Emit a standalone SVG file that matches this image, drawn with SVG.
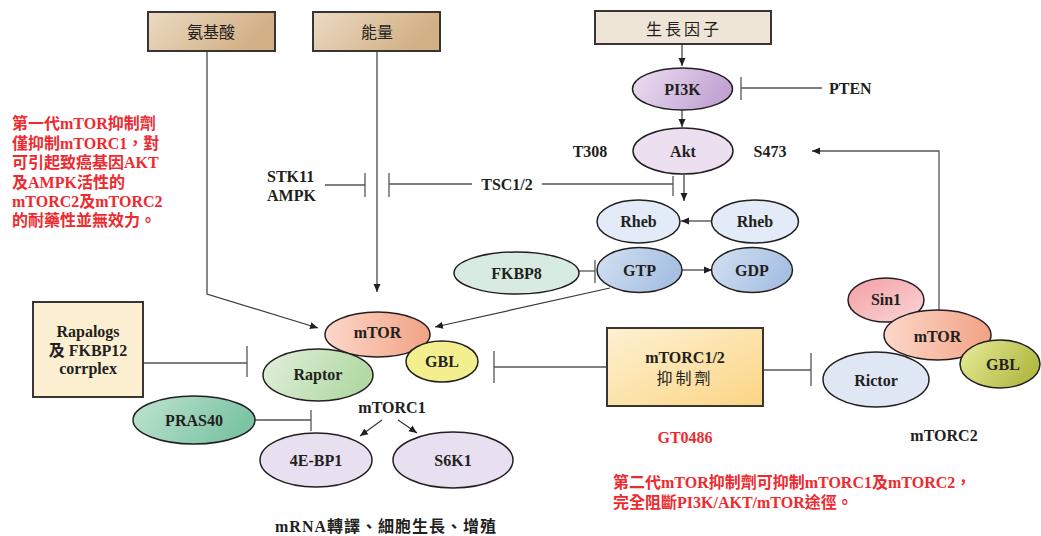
<svg xmlns="http://www.w3.org/2000/svg" width="1041" height="536" viewBox="0 0 1041 536">
<defs>
<style>
.lbl{font-family:"Liberation Serif","Noto Sans CJK TC",serif;font-weight:bold;font-size:16px;fill:#231f20;text-anchor:middle;dominant-baseline:central}
.st{text-anchor:start}
.cjk{font-family:"Noto Sans CJK TC","Noto Sans CJK SC",sans-serif;font-size:16px;fill:#231f20;text-anchor:middle;dominant-baseline:central}
.red{font-family:"Liberation Serif","Noto Sans CJK TC",serif;font-weight:bold;font-size:16px;fill:#ee2a2f;dominant-baseline:central}
.node{stroke:#231f20;stroke-width:1.5}
.box{stroke:#3a3433;stroke-width:2}
.ln{stroke:#3a3a3a;stroke-width:1.2;fill:none}
.inh{stroke:#555;stroke-width:1.3;fill:none}
</style>
<marker id="arr" markerUnits="userSpaceOnUse" markerWidth="9" markerHeight="8" refX="8" refY="4" orient="auto"><path d="M0,0.5 L8,4 L0,7.5 z" fill="#231f20"/></marker>
<linearGradient id="gTan" x1="0" y1="0" x2="1" y2="0.3"><stop offset="0" stop-color="#ebdac3"/><stop offset="1" stop-color="#d2af84"/></linearGradient>
<linearGradient id="gPur" x1="0" y1="0" x2="1" y2="0.3"><stop offset="0" stop-color="#ede1f1"/><stop offset="1" stop-color="#c2a3d4"/></linearGradient>
<linearGradient id="gSal" x1="0" y1="0" x2="1" y2="0"><stop offset="0" stop-color="#fcd8c9"/><stop offset="1" stop-color="#f2a284"/></linearGradient>
<linearGradient id="gGrn" x1="0" y1="0" x2="1" y2="0.3"><stop offset="0" stop-color="#e2f0dd"/><stop offset="1" stop-color="#b3d9a5"/></linearGradient>
<linearGradient id="gTeal" x1="0" y1="0" x2="1" y2="0.3"><stop offset="0" stop-color="#bfe4d0"/><stop offset="1" stop-color="#7cc4a3"/></linearGradient>
<linearGradient id="gBlue" x1="0" y1="0" x2="1" y2="0.3"><stop offset="0" stop-color="#d3e1f2"/><stop offset="1" stop-color="#a7c0e2"/></linearGradient>
<linearGradient id="gGold" x1="0" y1="0" x2="1" y2="1"><stop offset="0" stop-color="#fdf1d2"/><stop offset="1" stop-color="#fcd585"/></linearGradient>
<linearGradient id="gPink" x1="0" y1="0" x2="1" y2="1"><stop offset="0" stop-color="#f49ea3"/><stop offset="1" stop-color="#fad6d8"/></linearGradient>
<linearGradient id="gOlive" x1="0" y1="0" x2="1" y2="0.4"><stop offset="0" stop-color="#e9ec9a"/><stop offset="1" stop-color="#b3bb45"/></linearGradient>
</defs>
<rect width="1041" height="536" fill="#ffffff"/>

<g id="connectors">
<polyline class="ln" points="207,51 207,294 318,328" marker-end="url(#arr)"/>
<line class="ln" x1="377" y1="51" x2="377" y2="292" marker-end="url(#arr)"/>
<line class="inh" x1="325" y1="185" x2="365" y2="185"/>
<line class="inh" x1="365" y1="173" x2="365" y2="197"/>
<line class="inh" x1="389" y1="173" x2="389" y2="197"/>
<line class="inh" x1="389" y1="184" x2="472" y2="184"/>
<line class="inh" x1="542" y1="184" x2="673" y2="184"/>
<line class="inh" x1="673" y1="176" x2="673" y2="196"/>
<line class="ln" x1="682" y1="44" x2="682" y2="66" marker-end="url(#arr)"/>
<line class="ln" x1="682" y1="110" x2="682" y2="127" marker-end="url(#arr)"/>
<line class="inh" x1="741" y1="88" x2="822" y2="88"/>
<line class="inh" x1="741" y1="77" x2="741" y2="100"/>
<line class="ln" x1="684" y1="175" x2="684" y2="201" marker-end="url(#arr)"/>
<line class="ln" x1="712" y1="221" x2="681" y2="221" marker-end="url(#arr)"/>
<line class="inh" x1="579" y1="271" x2="595" y2="271"/>
<line class="inh" x1="595" y1="260" x2="595" y2="283"/>
<line class="ln" x1="682" y1="270" x2="712" y2="270" marker-end="url(#arr)"/>
<line class="ln" x1="610" y1="288" x2="435" y2="327" marker-end="url(#arr)"/>
<polyline class="inh" points="939,310 939,151 812,151" marker-end="url(#arr)"/>
<line class="inh" x1="143" y1="363" x2="247" y2="363"/>
<line class="inh" x1="247" y1="346" x2="247" y2="377"/>
<line class="inh" x1="607" y1="367" x2="494" y2="367"/>
<line class="inh" x1="494" y1="351" x2="494" y2="383"/>
<line class="inh" x1="763" y1="370" x2="811" y2="370"/>
<line class="inh" x1="811" y1="353" x2="811" y2="386"/>
<line class="inh" x1="255" y1="420" x2="311" y2="420"/>
<line class="inh" x1="311" y1="410" x2="311" y2="431"/>
<line class="ln" x1="382" y1="420" x2="360" y2="436" marker-end="url(#arr)"/>
<line class="ln" x1="398" y1="420" x2="417" y2="433" marker-end="url(#arr)"/>
</g>

<g id="amino"><rect class="box" x="148" y="12" width="127" height="39" fill="url(#gTan)"/><text class="cjk" x="211" y="31">氨基酸</text></g>
<g id="energy"><rect class="box" x="313" y="12" width="127" height="39" fill="url(#gTan)"/><text class="cjk" x="377" y="31">能量</text></g>
<g id="growth"><rect class="box" x="595" y="11" width="176" height="33" fill="#efe5d6"/><text class="cjk" x="684" y="28" letter-spacing="3">生長因子</text></g>

<g id="pi3k"><ellipse class="node" cx="682.5" cy="89" rx="50" ry="21" fill="url(#gPur)"/><text class="lbl" x="682.5" y="89">PI3K</text></g>
<g id="pten"><text class="lbl st" x="829" y="88">PTEN</text></g>
<g id="akt"><ellipse class="node" cx="683" cy="151" rx="50" ry="23" fill="#ecdfef"/><text class="lbl" x="683" y="151">Akt</text></g>
<g id="t308"><text class="lbl" x="590" y="151">T308</text></g>
<g id="s473"><text class="lbl" x="770" y="151">S473</text></g>
<g id="stk11"><text class="lbl st" x="267" y="176">STK11</text><text class="lbl st" x="267" y="195">AMPK</text></g>
<g id="tsc"><text class="lbl" x="507" y="184">TSC1/2</text></g>

<g id="rheb1"><ellipse class="node" cx="638.5" cy="221.5" rx="41.5" ry="21.5" fill="#e2ebf7"/><text class="lbl" x="638.5" y="221.5">Rheb</text></g>
<g id="rheb2"><ellipse class="node" cx="755" cy="221.5" rx="43.5" ry="21.5" fill="#e2ebf7"/><text class="lbl" x="755" y="221.5">Rheb</text></g>
<g id="gtp"><ellipse class="node" cx="639.5" cy="270" rx="42.5" ry="22.5" fill="url(#gBlue)"/><text class="lbl" x="639.5" y="270">GTP</text></g>
<g id="gdp"><ellipse class="node" cx="752" cy="270" rx="40.5" ry="22.5" fill="url(#gBlue)"/><text class="lbl" x="752" y="270">GDP</text></g>
<g id="fkbp8"><ellipse class="node" cx="516.5" cy="273" rx="62.5" ry="21" fill="#d8ebe0"/><text class="lbl" x="516.5" y="273">FKBP8</text></g>

<g id="raptor"><ellipse class="node" cx="318" cy="375" rx="55" ry="26" fill="url(#gGrn)"/><text class="lbl" x="318" y="374">Raptor</text></g>
<g id="mtor1"><ellipse class="node" cx="377.5" cy="334.5" rx="52.5" ry="22.5" fill="url(#gSal)"/><text class="lbl" x="377.5" y="332">mTOR</text></g>
<g id="gbl1"><ellipse class="node" cx="442" cy="361.5" rx="36" ry="20.5" fill="#f3ef8e"/><text class="lbl" x="442" y="361">GBL</text></g>
<g id="mtorc1"><text class="lbl" x="392" y="407">mTORC1</text></g>

<g id="rapalogs"><rect class="box" x="33" y="302" width="110" height="95" fill="#fdf0d2" stroke-width="1.5"/><text class="lbl" x="88" y="331">Rapalogs</text><text class="lbl" x="88" y="350">及 FKBP12</text><text class="lbl" x="88" y="368">corrplex</text></g>
<g id="pras40"><ellipse class="node" cx="194" cy="420" rx="61" ry="24" fill="url(#gTeal)"/><text class="lbl" x="194" y="420">PRAS40</text></g>
<g id="4ebp1"><ellipse class="node" cx="316" cy="460" rx="56" ry="27" fill="#e8dff0"/><text class="lbl" x="316" y="460">4E-BP1</text></g>
<g id="s6k1"><ellipse class="node" cx="453" cy="460" rx="60" ry="28" fill="#e8dff0"/><text class="lbl" x="453" y="460">S6K1</text></g>
<g id="mrna"><text class="lbl st" x="275" y="526" letter-spacing="1">mRNA轉譯、細胞生長、增殖</text></g>

<g id="inhibitor"><rect class="box" x="607" y="328" width="156" height="78" fill="url(#gGold)" stroke-width="1.5"/><text class="lbl" x="685" y="357">mTORC1/2</text><text class="cjk" x="685" y="377" letter-spacing="3">抑制劑</text></g>
<g id="gt0486"><text class="red" x="685" y="437" text-anchor="middle">GT0486</text></g>

<g id="sin1"><ellipse class="node" cx="886" cy="300" rx="38" ry="22" fill="url(#gPink)"/><text class="lbl" x="886" y="299">Sin1</text></g>
<g id="mtor2"><ellipse class="node" cx="937.5" cy="335" rx="53.5" ry="25" fill="url(#gSal)"/><text class="lbl" x="937.5" y="336">mTOR</text></g>
<g id="rictor"><ellipse class="node" cx="876" cy="379.5" rx="53" ry="27.5" fill="#dfe7f5"/><text class="lbl" x="876" y="380">Rictor</text></g>
<g id="gbl2"><ellipse class="node" cx="1000" cy="364" rx="40" ry="24" fill="url(#gOlive)"/><text class="lbl" x="1003" y="364">GBL</text></g>
<g id="mtorc2"><text class="lbl" x="944" y="435">mTORC2</text></g>

<g id="note1">
<text class="red" x="12" y="123">第一代mTOR抑制劑</text>
<text class="red" x="12" y="143">僅抑制mTORC1，對</text>
<text class="red" x="12" y="162">可引起致癌基因AKT</text>
<text class="red" x="12" y="182">及AMPK活性的</text>
<text class="red" x="12" y="201">mTORC2及mTORC2</text>
<text class="red" x="12" y="220">的耐藥性並無效力。</text>
</g>
<g id="note2">
<text class="red" x="613" y="482">第二代mTOR抑制劑可抑制mTORC1及mTORC2，</text>
<text class="red" x="613" y="502">完全阻斷PI3K/AKT/mTOR途徑。</text>
</g>
</svg>
